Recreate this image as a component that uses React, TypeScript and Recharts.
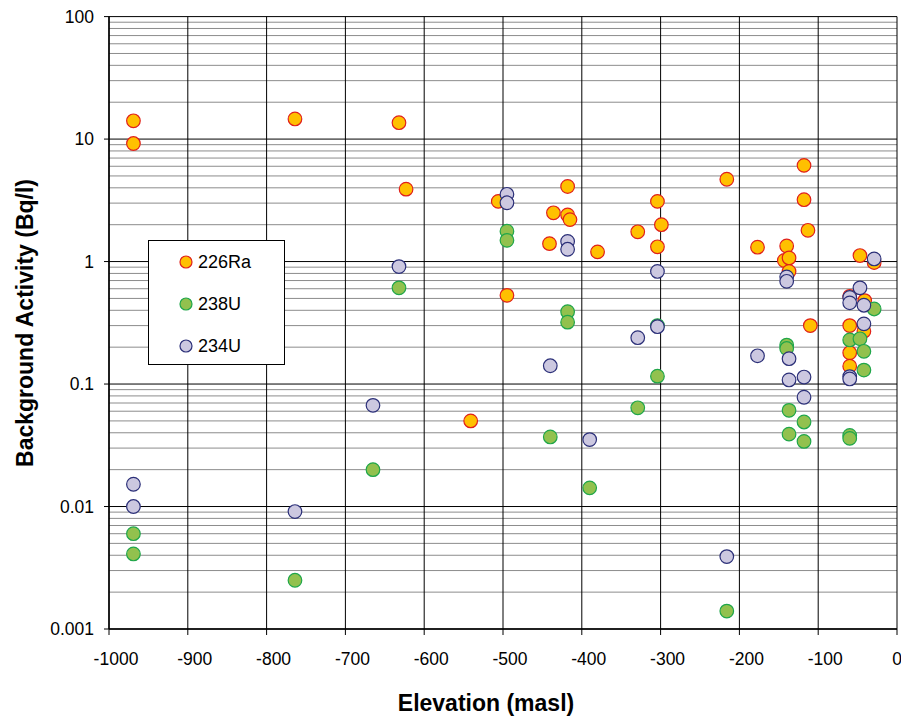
import { CartesianGrid, Label, Scatter, ScatterChart, XAxis, YAxis } from "recharts";

// elevation (masl) and activity (Bq/l)
const raElevation = [
  -969, -969, -764, -632, -623, -506, -418, -436, -418, -415, -304, -299, -329, -304, -441, -380, -495, -541,
  -216, -118, -118, -113, -177, -140, -143, -137, -137, -47, -29, -60, -41, -110, -60, -42, -60, -60
];
const raActivity = [
  14.1, 9.2, 14.6, 13.6, 3.9, 3.1, 4.1, 2.5, 2.4, 2.2, 3.1, 2.0, 1.75, 1.32, 1.4, 1.2, 0.53, 0.05,
  4.7, 6.1, 3.2, 1.8, 1.31, 1.34, 1.02, 1.07, 0.83, 1.12, 0.98, 0.52, 0.48, 0.3, 0.3, 0.27, 0.18, 0.14
];

const u238Elevation = [
  -969, -969, -764, -665, -632, -495, -495, -418, -418, -440, -390, -304, -304, -329, -216,
  -140, -140, -137, -137, -118, -118, -60, -60, -60, -47, -42, -42, -29
];
const u238Activity = [
  0.006, 0.0041, 0.0025, 0.02, 0.61, 1.77, 1.49, 0.39, 0.32, 0.037, 0.0142, 0.3, 0.116, 0.064, 0.0014,
  0.208, 0.195, 0.061, 0.039, 0.049, 0.034, 0.038, 0.036, 0.229, 0.234, 0.185, 0.13, 0.41
];

const u234Elevation = [
  -969, -969, -764, -665, -632, -495, -495, -418, -418, -440, -390, -304, -304, -329, -216,
  -177, -140, -140, -137, -137, -118, -118, -29, -47, -60, -60, -42, -42, -60, -60
];
const u234Activity = [
  0.0152, 0.01, 0.0091, 0.067, 0.91, 3.54, 3.02, 1.46, 1.26, 0.141, 0.0352, 0.83, 0.294, 0.239, 0.0039,
  0.17, 0.75, 0.69, 0.161, 0.108, 0.114, 0.078, 1.05, 0.61, 0.51, 0.46, 0.44, 0.31, 0.115, 0.11
];

const xTicks = [-1000, -900, -800, -700, -600, -500, -400, -300, -200, -100, 0];
const yTicks = [0.001, 0.01, 0.1, 1, 10, 100];

const yMinor: number[] = [];
yTicks.slice(0, -1).forEach((d) => {
  for (let k = 2; k <= 9; k++) yMinor.push(Number((k * d).toPrecision(3)));
});

const toPoints = (xs: number[], ys: number[]) => xs.map((x, i) => ({ x, y: ys[i] }));

const series = [
  { name: "226Ra", data: toPoints(raElevation, raActivity), fill: "#FFC000", stroke: "#E0201B" },
  { name: "238U", data: toPoints(u238Elevation, u238Activity), fill: "#92C14E", stroke: "#1FA64A" },
  { name: "234U", data: toPoints(u234Elevation, u234Activity), fill: "#CCC8E0", stroke: "#2B2F78" }
];

const FONT = '"Liberation Sans", Arial, sans-serif';

function dot(fill: string, stroke: string) {
  return (props: any) => <circle cx={props.cx} cy={props.cy} r={6.8} fill={fill} stroke={stroke} strokeWidth={1.2} />;
}

function XTick(props: any) {
  const { x, y, payload } = props;
  return (
    <text x={x + (payload.value < 0 ? 7 : 0)} y={y} dy="0.71em" textAnchor="middle" fontSize={17.5} fontFamily={FONT} fill="#000">
      {payload.value}
    </text>
  );
}

function YTick(props: any) {
  const { x, y, payload } = props;
  return (
    <text x={x} y={y} dy="0.355em" textAnchor="end" fontSize={17.5} fontFamily={FONT} fill="#000">
      {payload.value}
    </text>
  );
}

export default function App() {
  return (
    <div style={{ position: "absolute", left: 0, top: 0, width: 901, height: 718, background: "#fff" }}>
      <ScatterChart width={901} height={718} margin={{ top: 16.6, right: 4, bottom: 0, left: 0 }}>
        <CartesianGrid vertical={false} horizontalValues={yMinor} stroke="#8c8c8c" strokeWidth={1} />
        <CartesianGrid horizontalValues={yTicks} verticalValues={xTicks} stroke="#000" strokeWidth={1} />
        <XAxis
          type="number"
          dataKey="x"
          domain={[-1000, 0]}
          ticks={xTicks}
          interval={0}
          height={89}
          tickSize={6}
          tickMargin={18}
          tick={<XTick />}
          axisLine={{ stroke: "#000", strokeWidth: 1.5 }}
          tickLine={{ stroke: "#000" }}
        >
          <Label
            content={() => (
              <text x={486} y={703} textAnchor="middle" dominantBaseline="central" fontSize={23} fontWeight="bold" fontFamily={FONT} fill="#000">
                Elevation (masl)
              </text>
            )}
          />
        </XAxis>
        <YAxis
          type="number"
          dataKey="y"
          scale="log"
          domain={[0.001, 100]}
          allowDataOverflow
          ticks={yTicks}
          interval={0}
          width={109}
          tickSize={5}
          tickMargin={10}
          tick={<YTick />}
          axisLine={{ stroke: "#000", strokeWidth: 1.5 }}
          tickLine={{ stroke: "#000" }}
        >
          <Label
            content={() => (
              <text
                x={25}
                y={323}
                transform="rotate(-90, 25, 323)"
                textAnchor="middle"
                dominantBaseline="central"
                fontSize={23}
                fontWeight="bold"
                fontFamily={FONT}
                fill="#000"
              >
                Background Activity (Bq/l)
              </text>
            )}
          />
        </YAxis>
        {series.map((s) => (
          <Scatter key={s.name} name={s.name} data={s.data} shape={dot(s.fill, s.stroke)} isAnimationActive={false} />
        ))}
      </ScatterChart>
      <div
        style={{
          position: "absolute",
          left: 148,
          top: 240,
          width: 135,
          height: 123,
          border: "1px solid #000",
          background: "#fff",
          fontFamily: FONT,
          fontSize: 18
        }}
      >
        {series.map((s, i) => (
          <div key={s.name} style={{ position: "absolute", left: 30, top: 13 + i * 42, height: 16, display: "flex", alignItems: "center" }}>
            <svg width={14} height={14} style={{ marginRight: 5 }}>
              <circle cx={7} cy={7} r={6} fill={s.fill} stroke={s.stroke} strokeWidth={1.2} />
            </svg>
            <span>{s.name}</span>
          </div>
        ))}
      </div>
    </div>
  );
}
